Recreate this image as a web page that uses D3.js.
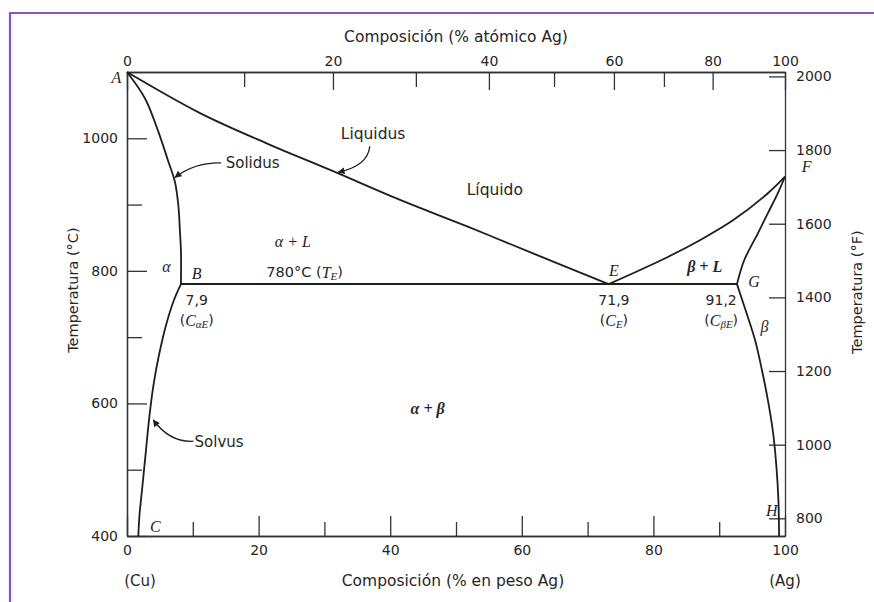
<!DOCTYPE html>
<html><head><meta charset="utf-8">
<script src="https://cdn.jsdelivr.net/npm/d3@7"></script>
<style>
html,body{margin:0;padding:0;background:#fff;}
svg{display:block;}
</style></head>
<body>
<script>
// ---- Data (wt% Ag, °C) ----
const liquidusAlpha = [[0,1100],[11.1,1038],[21.3,992],[31.4,950],[41.5,907],[51.7,867],[61.8,826],[73.2,780]];
const solidusAlpha  = [[0,1100],[2.74,1060],[4.76,1010],[6.28,965],[7.29,934],[7.8,899],[8.05,859],[8.2,829],[8.2,780]];
const solvusAlpha   = [[8.2,780],[7.14,756],[5.93,718],[4.86,673],[4.03,628],[3.42,582],[2.89,530],[2.28,469],[1.9,432],[1.72,400]];
const liquidusBeta  = [[73.2,780],[82.2,821],[87.2,847],[92.2,877],[97.4,917],[100,942]];
const solidusBeta   = [[92.7,780],[93.8,816],[95.9,857],[97.4,887],[98.9,917],[100,942]];
const solvusBeta    = [[92.7,780],[94.0,741],[95.44,696],[96.5,650],[97.4,605],[98.2,555],[98.7,504],[99.0,454],[99.1,400]];
const eutecticLine  = [[8.2,780],[92.7,780]];

// axis ticks
const bottomMajor = [0,20,40,60,80,100];
const bottomMinor = [10,30,50,70,90];
const leftMajor = [400,600,800,1000];
const leftMinor = [500,700,900];
const rightTicksF = [800,1000,1200,1400,1600,1800,2000];
// top axis: atomic % labels and where they sit on the wt% scale
const topAtMajor = [0,20,40,60,80,100];
const topAtMajorWt = [0,31.3,55.0,74.0,89.0,100];
const topAtMinorWt = [17.8,43.9,64.9,81.6];

// point letters: [text, wt%, °C]
const pointLabels = [["A",-1.6,1092],["B",10.6,796],["C",4.3,415],["E",74.0,801],["F",103.3,957],["G",95.3,784],["H",98.0,439]];
const phaseLabels = [["α",6.0,806],["β",96.9,716]];

const W = 874, H = 602;
const svg = d3.select("body").append("svg").attr("width",W).attr("height",H);
svg.append("rect").attr("width",W).attr("height",H).attr("fill","#fff");
// purple frame
svg.append("path").attr("d","M10,602 V13 H874").attr("fill","none").attr("stroke","#8a4fcf").attr("stroke-width",2.2);

const x = d3.scaleLinear().domain([0,100]).range([127,785]);
const y = d3.scaleLinear().domain([400,1100]).range([536,72]);
const yF = d3.scaleLinear().domain([400*1.8+32,1100*1.8+32]).range([536,72]);

const SANS = "'DejaVu Sans', sans-serif";
const SERIF = "'Liberation Serif', 'DejaVu Serif', serif";
const INK = "#262626";

function styleAxis(g, showText){
  g.select(".domain").attr("stroke","#333").attr("stroke-width",1.3);
  g.selectAll(".tick line").attr("stroke","#333").attr("stroke-width",1.3);
  g.selectAll(".tick text").attr("fill",INK).style("font-family",SANS).style("font-size","14px");
  if(!showText) g.selectAll(".tick text").remove();
  g.attr("font-family",null).attr("font-size",null);
}

// bottom axis
svg.append("g").attr("transform",`translate(0,${y(400)})`)
  .call(d3.axisBottom(x).tickValues(bottomMinor).tickSize(-14).tickSizeOuter(0).tickFormat(""))
  .call(g=>styleAxis(g,false));
svg.append("g").attr("transform",`translate(0,${y(400)})`)
  .call(d3.axisBottom(x).tickValues(bottomMajor).tickSize(-20).tickSizeOuter(0).tickPadding(9).tickFormat(d3.format("d")))
  .call(g=>styleAxis(g,true));

// top axis (atomic %)
svg.append("g").attr("transform",`translate(0,${y(1100)})`)
  .call(d3.axisTop(x).tickValues(topAtMinorWt).tickSize(-15).tickSizeOuter(0).tickFormat(""))
  .call(g=>styleAxis(g,false));
svg.append("g").attr("transform",`translate(0,${y(1100)})`)
  .call(d3.axisTop(x).tickValues(topAtMajorWt).tickSize(-18).tickSizeOuter(0).tickPadding(6)
        .tickFormat((d,i)=>topAtMajor[i]))
  .call(g=>styleAxis(g,true));

// left axis (°C)
svg.append("g").attr("transform",`translate(${x(0)},0)`)
  .call(d3.axisLeft(y).tickValues(leftMinor).tickSize(-15).tickSizeOuter(0).tickFormat(""))
  .call(g=>styleAxis(g,false));
svg.append("g").attr("transform",`translate(${x(0)},0)`)
  .call(d3.axisLeft(y).tickValues(leftMajor).tickSize(-20).tickSizeOuter(0).tickPadding(9).tickFormat(d3.format("d")))
  .call(g=>styleAxis(g,true));

// right axis (°F)
svg.append("g").attr("transform",`translate(${x(100)},0)`)
  .call(d3.axisRight(yF).tickValues(rightTicksF).tickSize(-16).tickSizeOuter(0).tickPadding(11).tickFormat(d3.format("d")))
  .call(g=>styleAxis(g,true));

// curves
const line = d3.line().x(d=>x(d[0])).y(d=>y(d[1])).curve(d3.curveCatmullRom.alpha(0.5));
const curves = [liquidusAlpha, solidusAlpha, solvusAlpha, liquidusBeta, solidusBeta, solvusBeta];
svg.append("g").selectAll("path").data(curves).join("path")
  .attr("d",line).attr("fill","none").attr("stroke","#1e1e1e").attr("stroke-width",1.8).attr("stroke-linejoin","round");
svg.append("path").attr("d",d3.line().x(d=>x(d[0])).y(d=>y(d[1]))(eutecticLine))
  .attr("fill","none").attr("stroke","#1e1e1e").attr("stroke-width",2);

// text helpers
function txt(px,py,opts={}){
  return svg.append("text").attr("x",px).attr("y",py)
    .attr("text-anchor",opts.anchor||"middle").attr("dominant-baseline","central")
    .attr("fill",INK).style("font-family",opts.family||SANS).style("font-size",(opts.size||14)+"px")
    .style("font-style",opts.italic?"italic":"normal");
}

// point letters
pointLabels.forEach(([t,a,b])=>{ txt(x(a),y(b),{family:SERIF,italic:true,size:16}).text(t); });
phaseLabels.forEach(([t,a,b])=>{ txt(x(a),y(b),{family:SERIF,italic:true,size:16}).text(t); });

// region labels
txt(x(25.2),y(844),{family:SERIF,italic:true,size:16}).text("α + L");
txt(x(45.7),y(592),{family:SERIF,italic:true,size:16}).style("font-weight","bold").text("α + β");
txt(x(87.8),y(806),{family:SERIF,italic:true,size:16}).style("font-weight","bold").text("β + L");
txt(x(55.9),y(922),{size:15.5}).text("Líquido");
txt(x(37.4),y(1007),{size:15.5}).text("Liquidus");
txt(x(19.1),y(963),{size:15}).text("Solidus");
txt(x(14.0),y(542),{size:15}).text("Solvus");

// 780°C (T_E)
{
  const t = txt(x(27.0),y(799),{size:14.5});
  t.append("tspan").text("780°C (");
  t.append("tspan").style("font-family",SERIF).style("font-style","italic").style("font-size","16px").text("T");
  t.append("tspan").attr("dy",4).style("font-family",SERIF).style("font-style","italic").style("font-size","11px").text("E");
  t.append("tspan").attr("dy",-4).text(")");
}
// composition labels
function compLabel(a,num,sub){
  txt(x(a),y(756),{size:14}).text(num);
  const t = txt(x(a),y(726),{size:14});
  t.append("tspan").text("(");
  t.append("tspan").style("font-family",SERIF).style("font-style","italic").style("font-size","16px").text("C");
  t.append("tspan").attr("dy",4).style("font-family",SERIF).style("font-style","italic").style("font-size","11px").text(sub);
  t.append("tspan").attr("dy",-4).text(")");
}
compLabel(10.6,"7,9","αE");
compLabel(74.0,"71,9","E");
compLabel(90.3,"91,2","βE");

// arrows (data coords: start, control, tip)
const arrows = [
  [[36.9,988],[36.6,958],[32.1,949]],
  [[14.3,963],[10.3,964],[7.3,941]],
  [[10.1,543],[6.5,541],[4.0,575]]
];
const defs = svg.append("defs");
defs.append("marker").attr("id","ah").attr("viewBox","0 0 10 10").attr("refX",9).attr("refY",5)
  .attr("markerWidth",11).attr("markerHeight",7).attr("markerUnits","userSpaceOnUse").attr("orient","auto")
  .append("path").attr("d","M0,0 L10,5 L0,10 Z").attr("fill","#1e1e1e");
arrows.forEach(([s,c,t])=>{
  const p = d3.path();
  p.moveTo(x(s[0]),y(s[1]));
  p.quadraticCurveTo(x(c[0]),y(c[1]),x(t[0]),y(t[1]));
  svg.append("path").attr("d",p.toString()).attr("fill","none").attr("stroke","#1e1e1e")
    .attr("stroke-width",1.3).attr("marker-end","url(#ah)");
});

// axis titles
txt((x(0)+x(100))/2, 37, {size:15.5}).text("Composición (% atómico Ag)");
txt((x(0)+x(100))/2-3, 581, {size:15.5}).text("Composición (% en peso Ag)");
txt(x(0)+13, 581, {size:15}).text("(Cu)");
txt(x(100), 581, {size:15}).text("(Ag)");
svg.append("text").attr("transform",`translate(73,${y(771)}) rotate(-90)`)
  .attr("text-anchor","middle").attr("dominant-baseline","central").attr("fill",INK)
  .style("font-family",SANS).style("font-size","14.5px").text("Temperatura (°C)");
svg.append("text").attr("transform",`translate(857,${y(768)}) rotate(-90)`)
  .attr("text-anchor","middle").attr("dominant-baseline","central").attr("fill",INK)
  .style("font-family",SANS).style("font-size","14.5px").text("Temperatura (°F)");
</script>
</body></html>
